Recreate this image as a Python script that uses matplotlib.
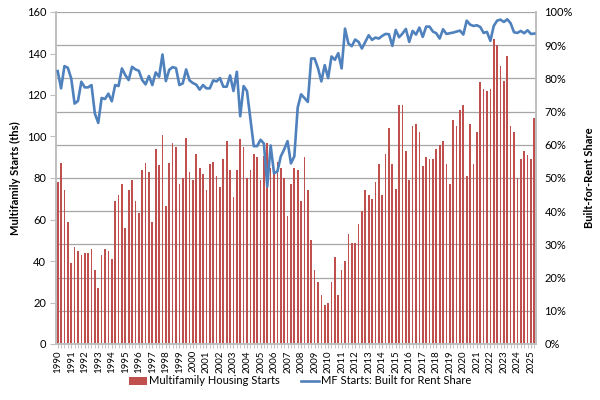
import matplotlib
matplotlib.use("Agg")
import matplotlib.pyplot as plt
import numpy as np
from matplotlib.patches import Patch
from matplotlib.lines import Line2D

plt.rcParams['font.family'] = ['Lato', 'DejaVu Sans']

# Quarterly, 1990Q1 - 2025Q2
years = list(range(1990, 2026))
starts = [
    77.9, 87.0, 74.0, 59.0, 38.8, 46.8, 44.9, 43.0, 43.9, 43.9, 45.8, 35.7, 26.8, 43.0, 45.8, 44.9, 41.0, 68.9, 71.9, 77.0,
    55.9, 74.0, 78.8, 68.9, 62.9, 83.8, 87.0, 82.9, 59.0, 93.9, 86.1, 100.7, 66.7, 87.0, 96.8, 94.8, 77.0, 79.8, 99.1, 82.9,
    78.9, 91.7, 84.8, 81.9, 74.1, 86.9, 87.8, 80.9, 75.8, 89.0, 97.8, 83.8, 70.8, 83.8, 99.0, 94.9, 79.9, 83.8, 91.7, 90.0,
    78.9, 90.8, 96.8, 84.8, 81.9, 87.8, 84.8, 80.0, 61.9, 77.0, 84.8, 83.8, 68.9, 90.0, 74.1, 50.0, 35.8, 29.8, 23.7, 18.9,
    19.7, 29.8, 41.8, 23.7, 35.8, 39.9, 52.9, 48.7, 48.7, 57.8, 63.9, 74.0, 71.9, 69.9, 77.9, 86.9, 71.9, 91.7, 103.9, 86.9,
    74.8, 115.0, 115.0, 93.0, 78.8, 105.0, 106.0, 102.0, 85.9, 89.9, 89.0, 89.0, 93.9, 95.9, 97.8, 86.9, 77.0, 108.0, 105.0, 112.7,
    115.0, 81.0, 106.0, 86.9, 102.0, 126.2, 123.0, 122.0, 123.0, 146.8, 144.0, 133.9, 126.9, 139.0, 105.0, 102.0, 79.8, 89.0, 93.0, 90.9,
    89.0, 109.0,
]
bfr_share = [
    82.2, 77.0, 83.7, 83.2, 80.0, 72.4, 73.2, 79.0, 77.3, 77.3, 78.0, 69.4, 66.6, 74.1, 73.8, 75.4, 73.1, 78.0, 77.7, 83.0,
    81.0, 79.5, 83.5, 82.7, 82.3, 79.5, 78.2, 80.7, 78.0, 81.8, 80.5, 87.2, 79.2, 82.6, 83.4, 83.1, 78.0, 78.5, 82.7, 79.4,
    78.6, 78.1, 76.6, 78.0, 77.0, 77.0, 79.4, 79.1, 80.1, 77.5, 77.5, 80.9, 76.2, 82.0, 68.6, 77.7, 76.2, 67.9, 59.6, 59.6,
    61.5, 60.4, 47.4, 59.8, 51.4, 52.0, 56.5, 58.6, 61.1, 54.4, 56.5, 71.2, 75.2, 74.1, 72.9, 86.0, 86.0, 83.1, 79.1, 84.0,
    80.1, 86.6, 85.6, 87.6, 83.0, 95.0, 90.5, 89.7, 91.7, 91.0, 89.0, 91.0, 93.0, 91.6, 92.3, 92.0, 92.8, 93.4, 93.3, 89.8,
    94.6, 92.4, 93.5, 94.9, 91.0, 94.3, 93.2, 95.3, 92.5, 95.6, 95.6, 94.1, 93.6, 92.0, 94.8, 93.4, 93.6, 93.8, 94.1, 94.4,
    93.2, 97.4, 96.2, 95.8, 96.0, 95.5, 93.7, 94.0, 91.3, 95.8, 97.4, 97.7, 97.0, 97.8, 96.6, 93.9, 93.7, 94.3, 93.6, 94.5,
    93.4, 93.5,
]
left_ticks = [0, 20, 40, 60, 80, 100, 120, 140, 160]
right_ticks = [0, 10, 20, 30, 40, 50, 60, 70, 80, 90, 100]

n = len(starts)
x = np.arange(n)
bar_color = '#C0504D'
line_color = '#4F81BD'
grid_color = '#A6A6A6'
spine_color = '#BFBFBF'

fig = plt.figure(figsize=(6, 4), dpi=100)
ax = fig.add_axes([56/600, 1-344/400, 480/600, 332/400])
ax2 = ax.twinx()

# gridlines tied to right axis ticks
for p in right_ticks[1:]:
    ax.axhline(p / 100 * 160, color=grid_color, lw=0.9, zorder=0)

ax.bar(x, starts, width=0.5, color=bar_color, zorder=2, linewidth=0)
ax2.plot(x, bfr_share, color=line_color, lw=1.9, zorder=3)

ax.set_xlim(-0.5, n - 0.5)
ax.set_ylim(0, 160)
ax2.set_ylim(0, 100)

ax.set_yticks(left_ticks)
ax.set_yticklabels([str(v) for v in left_ticks], fontsize=8)
ax2.set_yticks(right_ticks)
ax2.set_yticklabels([f"{v}%" for v in right_ticks], fontsize=8)

major_pos = [4 * (y - 1990) for y in years]
ax.set_xticks(major_pos)
ax.set_xticklabels([str(y) for y in years], rotation=90, fontsize=7)
ax.set_xticks(x, minor=True)
ax.tick_params(axis='x', which='both', length=3, color=spine_color, pad=1.5)
ax.tick_params(axis='y', length=4, color=spine_color, pad=3)
ax2.tick_params(axis='y', length=0, pad=6)

for a in (ax, ax2):
    a.spines['top'].set_visible(False)
    for s in ('left', 'right', 'bottom'):
        a.spines[s].set_color(spine_color)
        a.spines[s].set_linewidth(1.2)

ax.set_ylabel('Multifamily Starts (ths)', fontsize=8, fontweight='bold', labelpad=4)
ax2.set_ylabel('Built-for-Rent Share', fontsize=8, fontweight='bold', labelpad=8)

handles = [Patch(facecolor=bar_color, edgecolor='none'),
           Line2D([0], [0], color=line_color, lw=1.9)]
fig.legend(handles, ['Multifamily Housing Starts', 'MF Starts: Built for Rent Share'],
           loc='center', bbox_to_anchor=(0.5, 1 - 381/400), ncol=2, frameon=False,
           fontsize=8, handlelength=1.6, columnspacing=1.9, handletextpad=0.2)

fig.savefig('out.png', dpi=100)
